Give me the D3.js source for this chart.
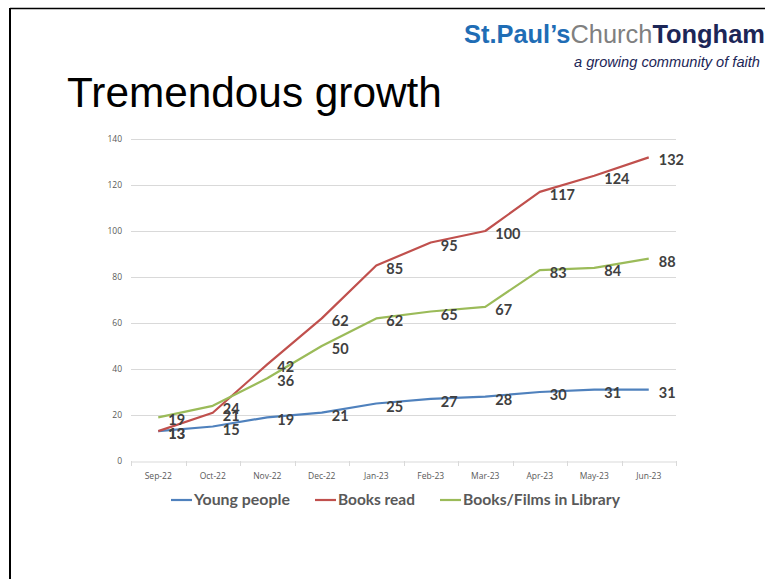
<!DOCTYPE html>
<html><head><meta charset="utf-8">
<script src="https://cdn.jsdelivr.net/npm/d3@7/dist/d3.min.js"></script>
<style>body{margin:0;background:#fff;}svg{display:block;}</style>
</head><body>
<svg id="c" width="765" height="579"></svg>
<script>
const months = ["Sep-22","Oct-22","Nov-22","Dec-22","Jan-23","Feb-23","Mar-23","Apr-23","May-23","Jun-23"];
const youngPeople = [13,15,19,21,25,27,28,30,31,31];
const booksRead = [13,21,42,62,85,95,100,117,124,132];
const booksFilms = [19,24,36,50,62,65,67,83,84,88];
const yTicks = [0,20,40,60,80,100,120,140];
const seriesNames = ["Young people","Books read","Books/Films in Library"];
const seriesColors = ["#4F81BD","#C0504D","#9BBB59"];
const series = [youngPeople, booksRead, booksFilms].map((v,i)=>({name:seriesNames[i], color:seriesColors[i], values:v}));

const svg = d3.select("#c");
// slide border
svg.append("line").attr("x1",10).attr("x2",765).attr("y1",8.5).attr("y2",8.5).attr("stroke","#000").attr("stroke-width",1.5);
svg.append("line").attr("x1",10).attr("x2",10).attr("y1",8).attr("y2",579).attr("stroke","#000").attr("stroke-width",2);

function fit(sel, w){ const l = sel.node().getComputedTextLength(); const fs = parseFloat(sel.attr("font-size")); sel.attr("font-size", fs*w/l); }

// title
const title = svg.append("text").attr("x",67).attr("y",107).attr("font-family","Liberation Sans, Arial, sans-serif").attr("font-size",40).attr("fill","#000").text("Tremendous growth");
fit(title, 375);

// logo
const logo = svg.append("text").attr("x",464).attr("y",43).attr("font-family","Liberation Sans, Arial, sans-serif").attr("font-size",21);
logo.append("tspan").attr("font-weight","bold").attr("fill","#1F6DB5").text("St.Paul\u2019s");
logo.append("tspan").attr("fill","#808080").text("Church");
logo.append("tspan").attr("font-weight","bold").attr("fill","#1C2657").text("Tongham");
fit(logo, 301);
const sub = svg.append("text").attr("x",574).attr("y",67).attr("font-family","Liberation Sans, Arial, sans-serif").attr("font-style","italic").attr("font-size",14).attr("fill","#1C2657").text("a growing community of faith");
fit(sub, 186);

// chart
const x = d3.scaleBand().domain(months).range([131,676]);
const y = d3.scaleLinear().domain([0,140]).range([461,139]);
const g = svg.append("g");
g.selectAll("line.grid").data(yTicks.filter(d=>d>0)).join("line")
  .attr("x1",131).attr("x2",676).attr("y1",d=>y(d)+0.5).attr("y2",d=>y(d)+0.5).attr("stroke","#D9D9D9").attr("stroke-width",1);
// x axis
const xa = g.append("g").attr("transform",`translate(0,${y(0)+0.5})`).call(d3.axisBottom(x).tickSize(0).tickPadding(11));
xa.select(".domain").attr("stroke","#D9D9D9");
xa.selectAll("text").attr("font-family","Open Sans, Liberation Sans, sans-serif").attr("font-size",8.5).attr("fill","#595959");
const bounds = months.map(m=>x(m)).concat([x(months[months.length-1])+x.bandwidth()]);
g.selectAll("line.xt").data(bounds).join("line").attr("x1",d=>Math.round(d)+0.5).attr("x2",d=>Math.round(d)+0.5)
  .attr("y1",y(0)).attr("y2",y(0)+5).attr("stroke","#D9D9D9");
// y axis labels
const ya = g.append("g").attr("transform","translate(131,0)").call(d3.axisLeft(y).tickValues(yTicks).tickSize(0).tickPadding(9));
ya.select(".domain").remove();
ya.selectAll("text").attr("font-family","Open Sans, Liberation Sans, sans-serif").attr("font-size",8.5).attr("fill","#595959");

const cx = m => x(m) + x.bandwidth()/2;
const line = d3.line().x((d,i)=>cx(months[i])).y(d=>y(d));
g.selectAll("path.s").data(series).join("path").attr("fill","none").attr("stroke",d=>d.color).attr("stroke-width",2.2)
  .attr("stroke-linejoin","round").attr("d",d=>line(d.values));
// data labels
series.forEach(s=>{
  g.selectAll(null).data(s.values).join("text")
    .attr("x",(d,i)=>cx(months[i])+10).attr("y",(d)=>y(d)+8)
    .attr("font-family","Lato, Open Sans, sans-serif").attr("font-weight","bold").attr("font-size",14.5).attr("fill","#404040")
    .text(d=>d);
});

// legend
const legX = [171,315,440];
const legW = [96,77,157];
const leg = svg.append("g").selectAll("g").data(series).join("g").attr("transform",(d,i)=>`translate(${legX[i]},500)`);
leg.append("line").attr("x1",0).attr("x2",21).attr("stroke",d=>d.color).attr("stroke-width",2.2);
leg.append("text").attr("x",23).attr("y",5).attr("font-family","Lato, Open Sans, sans-serif").attr("font-weight","bold").attr("font-size",14).attr("fill","#595959").text(d=>d.name)
  .each(function(d,i){ fit(d3.select(this), legW[i]); });
</script>
</body></html>
